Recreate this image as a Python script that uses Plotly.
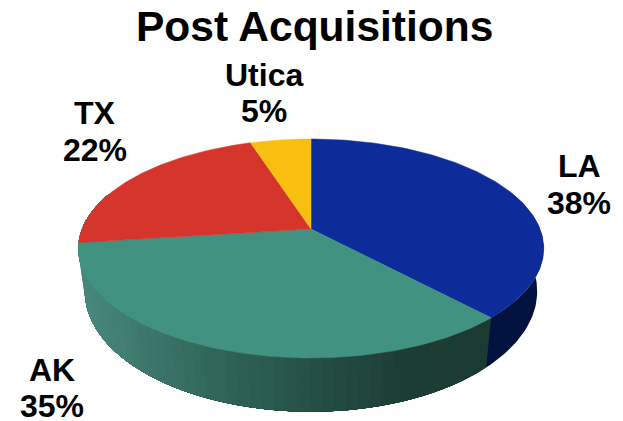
import numpy as np
import plotly.graph_objects as go

categories = ["LA", "AK", "TX", "Utica"]
values = [38, 35, 22, 5]
colors = ["#0d2c9a", "#429282", "#d6352c", "#f9bf10"]
title = "Post Acquisitions"

CX, CY, A, B, K = 311.0, 229.0, 229.0, 106.0, 0.178
XS, YS, YT = 0.972, 1.1, 18.0


def top(theta):
    c, s = np.cos(theta), np.sin(theta)
    w = 1 + K * c
    return CX + A * s / w, CY - B * c / w


def bottom(theta):
    x, y = top(theta)
    return CX + (x - CX) * XS, y * YS + YT


def lerp_color(x, stops):
    xs = [p[0] for p in stops]
    rgb = [np.interp(x, xs, [p[1][i] for p in stops]) for i in range(3)]
    return "rgb(%d,%d,%d)" % tuple(int(round(v)) for v in rgb)


AK_STOPS = [(84, (72, 136, 124)), (140, (62, 120, 108)), (200, (50, 105, 93)),
            (311, (38, 80, 71)), (400, (28, 62, 53)), (490, (27, 58, 50))]
LA_SIDE = "#01123f"

fig = go.Figure()
fracs = np.cumsum([0] + values) / sum(values)
bounds = fracs * 2 * np.pi


def add_poly(xs, ys, color, lw=0):
    fig.add_trace(go.Scatter(x=xs, y=ys, mode="lines", fill="toself", fillcolor=color,
                             line=dict(color=color, width=lw), hoverinfo="skip",
                             showlegend=False))


# side wall: each band runs to the far end and the next one paints over it, so no seams show
side_start = np.radians(70)
side_end = np.radians(290)


def side_poly(a, color):
    ts = np.linspace(a, side_end, 200)
    x1, y1 = top(ts)
    x2, y2 = bottom(ts[::-1])
    add_poly(list(x1) + list(x2), list(y1) + list(y2), color)


side_poly(side_start, LA_SIDE)
edges = np.linspace(side_end, bounds[1], 61)[::-1]  # from the LA/AK edge towards the left
for a, b in zip(edges[:-1], edges[1:]):
    xm = top((a + b) / 2)[0]
    side_poly(a, lerp_color(xm, AK_STOPS))

# top face
for i, name in enumerate(categories):
    ts = np.linspace(bounds[i], bounds[i + 1], 120)
    x, y = top(ts)
    add_poly([CX] + list(x) + [CX], [CY] + list(y) + [CY], colors[i], 0.5)

label_pos = [(579, 166, 203), (52, 370, 406), (95, 113, 150), (264, 75, 111)]
annotations = []
for name, v, (lx, y1, y2) in zip(categories, values, label_pos):
    for txt, ly in ((name, y1), (f"{v}%", y2)):
        annotations.append(dict(x=lx, y=ly, xref="x", yref="y", text=f"<b>{txt}</b>", showarrow=False,
                                xanchor="center", yanchor="middle",
                                font=dict(family="Liberation Sans", size=32, color="black")))
annotations.append(dict(x=314.5, y=26, xref="x", yref="y", text=f"<b>{title}</b>", showarrow=False,
                        xanchor="center", yanchor="middle",
                        font=dict(family="Liberation Sans", size=42.5, color="black")))

fig.update_layout(
    width=623, height=421, margin=dict(l=0, r=0, t=0, b=0),
    paper_bgcolor="white", plot_bgcolor="white", showlegend=False,
    xaxis=dict(range=[0, 623], visible=False, fixedrange=True),
    yaxis=dict(range=[421, 0], visible=False, fixedrange=True),
    annotations=annotations,
)
fig.write_html("out.html", config={"displayModeBar": False},
               post_script="document.body.style.margin='0';document.body.style.overflow='hidden';")
